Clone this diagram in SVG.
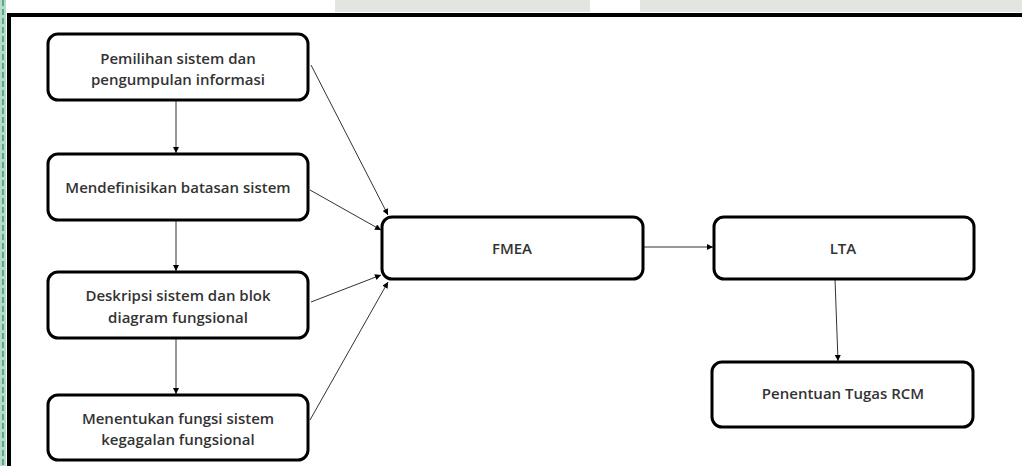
<svg xmlns="http://www.w3.org/2000/svg" width="1022" height="466" viewBox="0 0 1022 466">
<defs>
<style>
.box{fill:#fff;stroke:#000;stroke-width:3}
.lbl{font-family:"Open Sans","Liberation Sans",sans-serif;font-weight:600;font-size:15px;fill:#333;text-anchor:middle}
.con{stroke:#333;stroke-width:1;fill:none;marker-end:url(#ah)}
</style>
<marker id="ah" viewBox="0 0 10 10" refX="10" refY="5" markerWidth="7" markerHeight="6" orient="auto" markerUnits="userSpaceOnUse">
<path d="M0,0 L10,5 L0,10 z" fill="#000"/>
</marker>
</defs>
<rect x="0" y="0" width="1022" height="466" fill="#fff"/>
<g id="watermark">
<rect x="335" y="0" width="255" height="12" fill="#e3e5e1"/>
<rect x="640" y="0" width="382" height="12" fill="#e3e5e1"/>
<rect x="0" y="0" width="6" height="466" fill="#b5dcc8"/>
<line x1="3" y1="0" x2="3" y2="466" stroke="#5fa886" stroke-width="2" stroke-dasharray="6 3"/>
</g>
<g id="frame">
<path d="M9,466 V15 H1022" fill="none" stroke="#000" stroke-width="4"/>
</g>
<g id="connectors">
<line class="con" x1="176" y1="100" x2="176" y2="153"/>
<line class="con" x1="176" y1="220" x2="176" y2="271"/>
<line class="con" x1="176" y1="338" x2="176" y2="394"/>
<line class="con" x1="311" y1="65" x2="388" y2="215"/>
<line class="con" x1="310" y1="190" x2="381" y2="230"/>
<line class="con" x1="311" y1="302" x2="381" y2="275"/>
<line class="con" x1="310" y1="420" x2="388" y2="282"/>
<line class="con" x1="643" y1="247" x2="713" y2="247"/>
<line class="con" x1="835" y1="279" x2="838" y2="361"/>
</g>
<g id="n1">
<rect class="box" x="48" y="34" width="260" height="66" rx="10"/>
<text class="lbl" x="178" y="64">Pemilihan sistem dan</text>
<text class="lbl" x="178" y="85">pengumpulan informasi</text>
</g>
<g id="n2">
<rect class="box" x="48" y="154" width="260" height="66" rx="10"/>
<text class="lbl" x="178" y="193">Mendefinisikan batasan sistem</text>
</g>
<g id="n3">
<rect class="box" x="48" y="272" width="260" height="66" rx="10"/>
<text class="lbl" x="178" y="301">Deskripsi sistem dan blok</text>
<text class="lbl" x="178" y="323">diagram fungsional</text>
</g>
<g id="n4">
<rect class="box" x="48" y="395" width="260" height="65" rx="10"/>
<text class="lbl" x="178" y="424">Menentukan fungsi sistem</text>
<text class="lbl" x="178" y="445">kegagalan fungsional</text>
</g>
<g id="fmea">
<rect class="box" x="382" y="217" width="261" height="62" rx="10"/>
<text class="lbl" x="512" y="254">FMEA</text>
</g>
<g id="lta">
<rect class="box" x="714" y="217" width="260" height="62" rx="10"/>
<text class="lbl" x="843" y="254">LTA</text>
</g>
<g id="rcm">
<rect class="box" x="712" y="362" width="261" height="65" rx="10"/>
<text class="lbl" x="843" y="399">Penentuan Tugas RCM</text>
</g>
</svg>
